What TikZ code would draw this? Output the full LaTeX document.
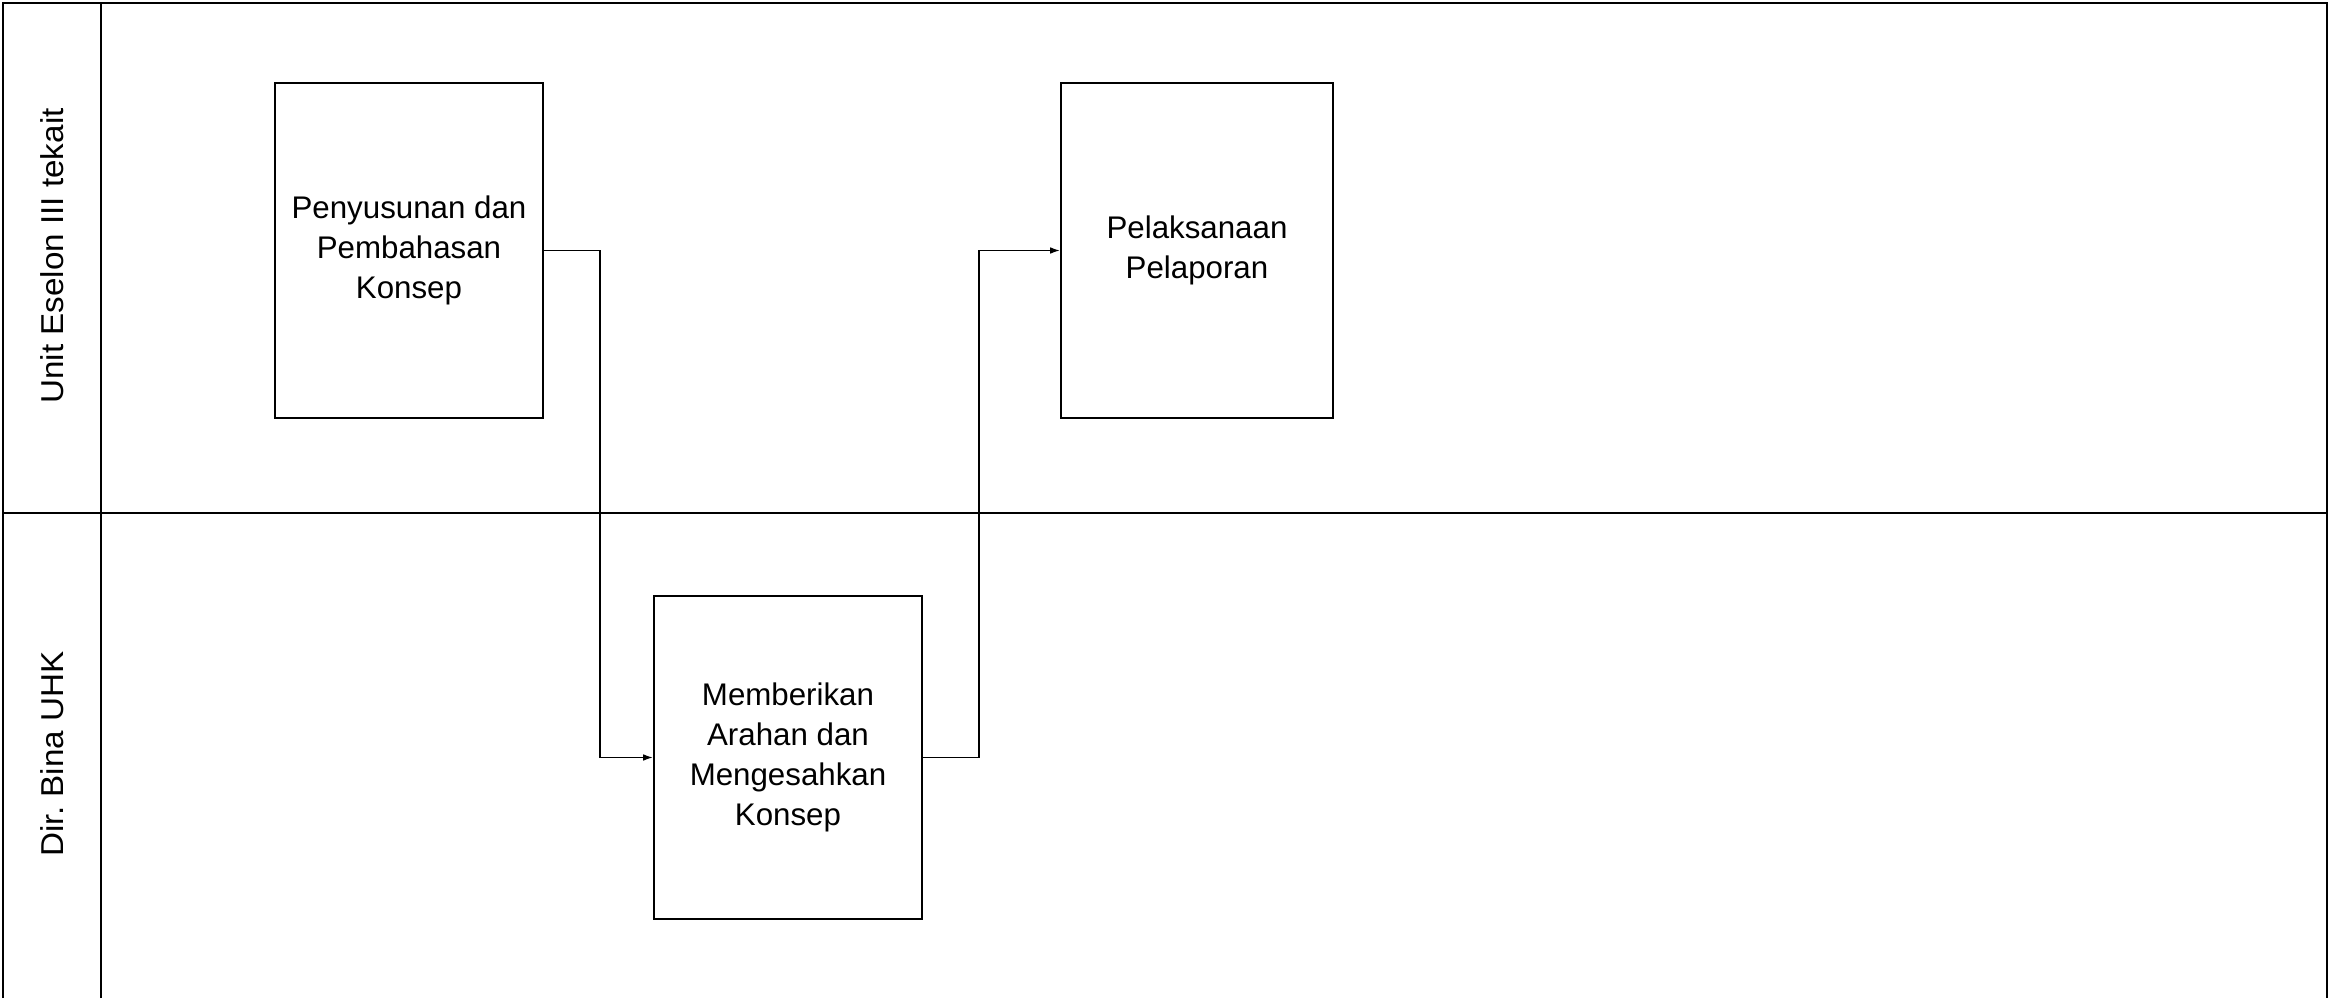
\documentclass[tikz,border=0pt]{standalone}
\usepackage{fontspec}
\setmainfont{Liberation Sans}
\usetikzlibrary{arrows.meta,calc,positioning}

\begin{document}
\begin{tikzpicture}[>={Latex[length=2.8pt,width=1.9pt]},
  proc/.style={draw,line width=0.55pt,minimum width=2.68cm,minimum height=3.35cm,
    align=center,inner sep=0pt,font=\fontsize{8.9}{11.4}\selectfont},
  lanelbl/.style={rotate=90,font=\fontsize{9}{11}\selectfont,xscale=1.05},
  flow/.style={->,line width=0.45pt}]
\useasboundingbox (0,0) rectangle (23.31,9.98);
% swimlane frame
\draw[line width=0.8pt] (0.03,0) -- (0.03,9.95) -- (23.27,9.95) -- (23.27,0);
\draw[line width=0.55pt] (1.01,0) -- (1.01,9.95);
\draw[line width=0.55pt] (0.03,4.85) -- (23.27,4.85);
\node[lanelbl] (laneA) at (0.52,7.42) {Unit Eselon III tekait};
\node[lanelbl] (laneB) at (0.52,2.44) {Dir.\ Bina UHK};
% activities
\node[proc] (susun) at (4.09,7.475) {Penyusunan dan\\Pembahasan\\Konsep};
\node[proc,minimum width=2.72cm] (lapor) at (11.97,7.475) {Pelaksanaan\\Pelaporan};
\node[proc,minimum height=3.23cm] (sah) at (7.88,2.405) {Memberikan\\Arahan dan\\Mengesahkan\\Konsep};
% flows
\draw[flow] (susun.east) -- ++(0.56,0) |- (sah.west);
\draw[flow] (sah.east) -- ++(0.56,0) |- (lapor.west);
\end{tikzpicture}
\end{document}
